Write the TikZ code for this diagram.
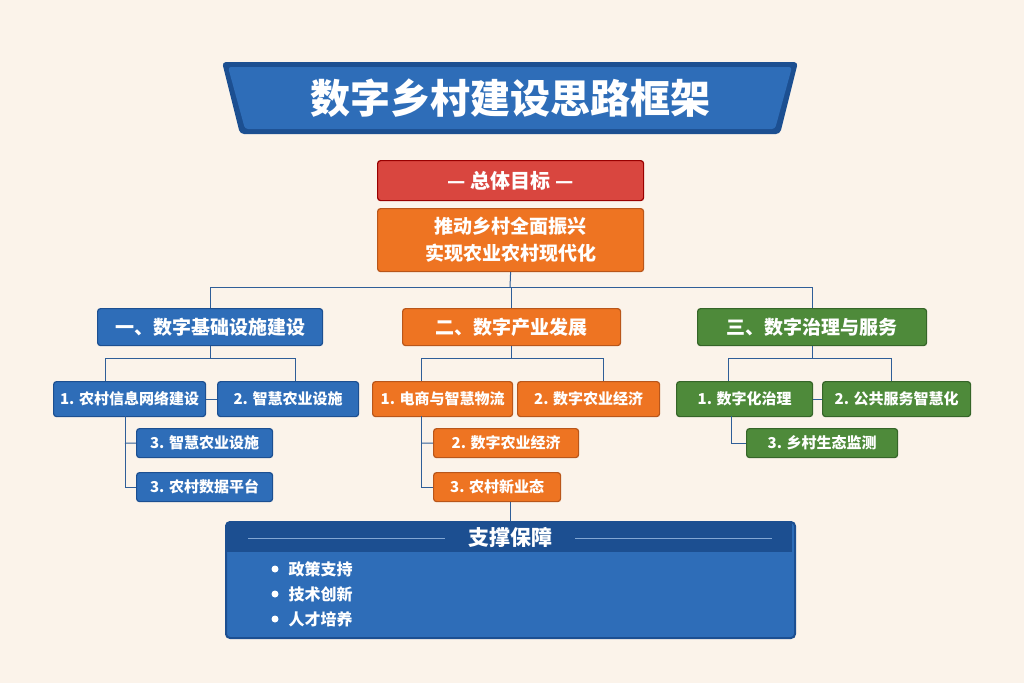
\documentclass[tikz,border=0pt]{standalone}
\usepackage{fontspec}
\newfontfamily\cjk{Noto Sans CJK SC}
\usepackage{tikz}
\definecolor{bgc}{HTML}{FBF3EA}
\definecolor{blueA}{HTML}{2E6DB8}
\definecolor{blueD}{HTML}{1C4F91}
\definecolor{redA}{HTML}{D9463F}
\definecolor{orgA}{HTML}{EE7422}
\definecolor{orgD}{HTML}{B9561A}
\definecolor{grnA}{HTML}{4E8A3A}
\definecolor{grnD}{HTML}{356528}
\definecolor{linec}{HTML}{2F5E98}

\begin{document}
\begin{tikzpicture}[x=1pt,y=-1pt]
    \tikzstyle{bx} = [rectangle, rounded corners=3pt, line width=1.2pt, text=white, font=\cjk\bfseries, inner sep=0pt, anchor=north west]
    \tikzstyle{bluebox} = [bx, fill=blueA, draw=blueD]
    \tikzstyle{orgbox} = [bx, fill=orgA, draw=orgD]
    \tikzstyle{grnbox} = [bx, fill=grnA, draw=grnD]
    \tikzstyle{link} = [linec, line width=1pt]

    % Background
    \fill[bgc] (0,0) rectangle (1024,683);
    \useasboundingbox (0,0) rectangle (1024,683);

    % Title
    \fill[blueD, rounded corners=4pt] (222,62) -- (798,62) -- (780,134) -- (240,134) -- cycle;
    \fill[blueA, rounded corners=3pt] (228,67) -- (792,67) -- (775,129) -- (245,129) -- cycle;
    \node[text=white, font=\cjk\bfseries\fontsize{40}{42}\selectfont] (title) at (510,98) {数字乡村建设思路框架};

    % Goal
    \node[bx, fill=redA, draw=red!60!black, minimum width=266pt, minimum height=40pt, font=\cjk\bfseries\fontsize{20}{22}\selectfont] (goalhd) at (377,160) {— 总体目标 —};
    \node[orgbox, minimum width=266pt, minimum height=63pt, align=center, font=\cjk\bfseries\fontsize{19}{27}\selectfont] (goal) at (377,208) {推动乡村全面振兴\\实现农业农村现代化};

    % Main branches
    \node[bluebox, minimum width=225pt, minimum height=37pt, font=\cjk\bfseries\fontsize{19}{21}\selectfont] (infra) at (97,308) {一、数字基础设施建设};
    \node[orgbox, minimum width=218pt, minimum height=37pt, font=\cjk\bfseries\fontsize{19}{21}\selectfont] (indus) at (402,308) {二、数字产业发展};
    \node[grnbox, minimum width=229pt, minimum height=37pt, font=\cjk\bfseries\fontsize{19}{21}\selectfont] (govern) at (697,308) {三、数字治理与服务};

    \coordinate (split) at (510,287);
    \draw[link] (goal.south) -- (split);
    \draw[link] (infra.north |- split) -- (govern.north |- split);
    \draw[link] (infra.north |- split) -- (infra.north);
    \draw[link] (indus.north |- split) -- (indus.north);
    \draw[link] (govern.north |- split) -- (govern.north);

    % Infrastructure items
    \tikzstyle{sub} = [font=\cjk\bfseries\fontsize{15}{17}\selectfont]
    \node[bluebox, sub, minimum width=152pt, minimum height=35pt] (b1) at (53,381) {1. 农村信息网络建设};
    \node[bluebox, sub, minimum width=141pt, minimum height=35pt] (b2) at (217,381) {2. 智慧农业设施};
    \node[bluebox, sub, minimum width=136pt, minimum height=29pt] (b3) at (136,428) {3. 智慧农业设施};
    \node[bluebox, sub, minimum width=136pt, minimum height=29pt] (b4) at (136,472) {3. 农村数据平台};
    \draw[link] (infra.south) -- ++(0,13);
    \draw[link] (105,358) -- (295,358);
    \draw[link] (105,358) -- (105,381);
    \draw[link] (295,358) -- (295,381);
    \draw[link] (b1.east) -- (b2.west);
    \draw[link] (125,416) |- (b4.west);
    \draw[link] (125,443) -- (b3.west);

    % Industry items
    \node[orgbox, sub, minimum width=140pt, minimum height=35pt] (o1) at (372,381) {1. 电商与智慧物流};
    \node[orgbox, sub, minimum width=142pt, minimum height=35pt] (o2) at (517,381) {2. 数字农业经济};
    \node[orgbox, sub, minimum width=145pt, minimum height=29pt] (o3) at (433,428) {2. 数字农业经济};
    \node[orgbox, sub, minimum width=127pt, minimum height=29pt] (o4) at (433,472) {3. 农村新业态};
    \draw[link] (indus.south) -- ++(0,13);
    \draw[link] (421,358) -- (603,358);
    \draw[link] (421,358) -- (421,381);
    \draw[link] (603,358) -- (603,381);
    \draw[link] (421,416) |- (o4.west);
    \draw[link] (421,443) -- (o3.west);

    % Governance items
    \node[grnbox, sub, minimum width=136pt, minimum height=35pt] (g1) at (676,381) {1. 数字化治理};
    \node[grnbox, sub, minimum width=148pt, minimum height=35pt] (g2) at (822,381) {2. 公共服务智慧化};
    \node[grnbox, sub, minimum width=151pt, minimum height=29pt] (g3) at (746,428) {3. 乡村生态监测};
    \draw[link] (govern.south) -- ++(0,13);
    \draw[link] (728,358) -- (891,358);
    \draw[link] (728,358) -- (728,381);
    \draw[link] (891,358) -- (891,381);
    \draw[link] (g1.east) -- (g2.west);
    \draw[link] (731,416) |- (g3.west);

    % Support
    \node[bluebox, rounded corners=4pt, line width=2pt, minimum width=569pt, minimum height=116pt] (support) at (225,521) {};
    \fill[blueD] (227,523) rectangle (792,552);
    \node[text=white, font=\cjk\bfseries\fontsize{21}{23}\selectfont] (supphd) at (510,537) {支撑保障};
    \draw[blueA!60!white, line width=0.8pt] (248,538) -- (445,538);
    \draw[blueA!60!white, line width=0.8pt] (575,538) -- (772,538);
    \draw[link] (o4.south -| 510,0) -- (510,521);
    \foreach \y/\t in {569/政策支持, 594/技术创新, 619/人才培养} {
        \fill[white] (275,\y) circle (3.5pt);
        \node[anchor=west, text=white, font=\cjk\bfseries\fontsize{16}{18}\selectfont] at (285,\y) {\t};
    }
\end{tikzpicture}
\end{document}
